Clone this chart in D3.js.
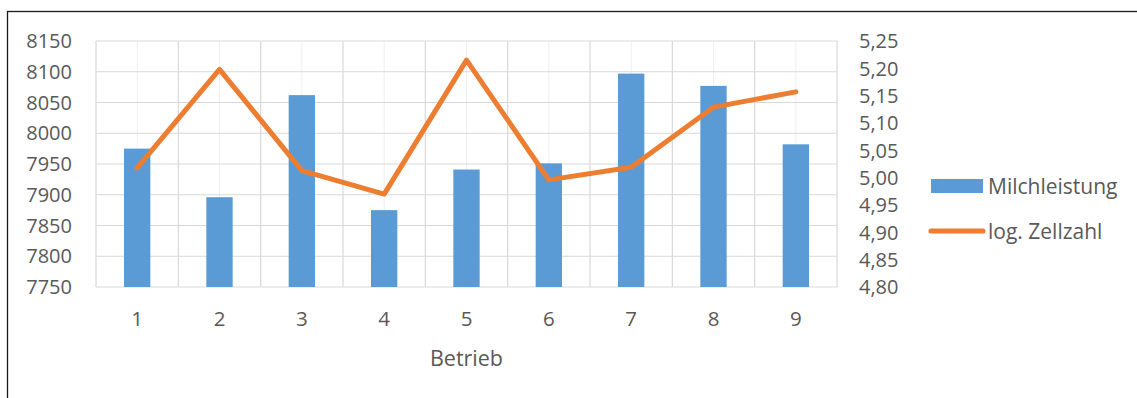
<!DOCTYPE html>
<html>
<head>
<meta charset="utf-8">
<script src="https://cdn.jsdelivr.net/npm/d3@7"></script>
<style>
  body { margin: 0; background: #fff; }
  text { font-family: "Open Sans", "Liberation Sans", sans-serif; fill: #595959; }
</style>
</head>
<body>
<div id="plot"></div>
<script>
// Data
const betriebe = ["1", "2", "3", "4", "5", "6", "7", "8", "9"];
const milchleistung = [7975, 7896, 8062, 7875, 7941, 7951, 8097, 8077, 7982];
const logZellzahl = [5.018, 5.198, 5.013, 4.970, 5.215, 4.996, 5.019, 5.129, 5.157];
const leftTicks = [7750, 7800, 7850, 7900, 7950, 8000, 8050, 8100, 8150];
const rightTicks = [4.80, 4.85, 4.90, 4.95, 5.00, 5.05, 5.10, 5.15, 5.20, 5.25];
const seriesNames = ["Milchleistung", "log. Zellzahl"];

const W = 1137, H = 398;
const plot = {left: 96, right: 837, top: 41, bottom: 287};

const svg = d3.select("#plot")
    .append("svg")
    .attr("width", W)
    .attr("height", H);

// outer chart border (cut off on the right and bottom)
svg.append("rect")
    .attr("x", 7.5).attr("y", 11.5)
    .attr("width", W + 20).attr("height", H + 20)
    .attr("fill", "none")
    .attr("stroke", "#1a1a1a")
    .attr("stroke-width", 1.3);

// Scales
const x = d3.scaleBand()
    .domain(betriebe)
    .range([plot.left, plot.right])
    .padding(0);

const yLeft = d3.scaleLinear()
    .domain([7750, 8150])
    .range([plot.bottom, plot.top]);

const yRight = d3.scaleLinear()
    .domain([4.80, 5.25])
    .range([plot.bottom, plot.top]);

// minor vertical gridlines at category centres
svg.append("g")
    .selectAll("line")
    .data(betriebe)
    .join("line")
    .attr("x1", d => x(d) + x.bandwidth() / 2)
    .attr("x2", d => x(d) + x.bandwidth() / 2)
    .attr("y1", plot.top).attr("y2", plot.bottom)
    .attr("stroke", "#efefef")
    .attr("stroke-width", 1);

// major vertical gridlines at category boundaries
const bounds = betriebe.map(d => x(d)).concat([x(betriebe[betriebe.length - 1]) + x.bandwidth()]);
svg.append("g")
    .selectAll("line")
    .data(bounds)
    .join("line")
    .attr("x1", d => d).attr("x2", d => d)
    .attr("y1", plot.top).attr("y2", plot.bottom)
    .attr("stroke", "#d9d9d9")
    .attr("stroke-width", 1.2);

// horizontal gridlines
svg.append("g")
    .selectAll("line")
    .data(leftTicks)
    .join("line")
    .attr("x1", plot.left).attr("x2", plot.right)
    .attr("y1", d => yLeft(d)).attr("y2", d => yLeft(d))
    .attr("stroke", "#d9d9d9")
    .attr("stroke-width", 1.2);

// Bars
const barW = x.bandwidth() * 0.32;
svg.append("g")
    .selectAll("rect")
    .data(milchleistung)
    .join("rect")
    .attr("x", (d, i) => x(betriebe[i]) + x.bandwidth() / 2 - barW / 2)
    .attr("y", d => yLeft(d))
    .attr("width", barW)
    .attr("height", d => plot.bottom - yLeft(d))
    .attr("fill", "#5b9bd5");

// Line
const line = d3.line()
    .x((d, i) => x(betriebe[i]) + x.bandwidth() / 2)
    .y(d => yRight(d));

svg.append("path")
    .datum(logZellzahl)
    .attr("d", line)
    .attr("fill", "none")
    .attr("stroke", "#ed7d31")
    .attr("stroke-width", 5)
    .attr("stroke-linejoin", "round")
    .attr("stroke-linecap", "round");

// Left axis labels
svg.append("g")
    .selectAll("text")
    .data(leftTicks)
    .join("text")
    .attr("x", 72)
    .attr("y", d => yLeft(d))
    .attr("dy", "0.36em")
    .attr("text-anchor", "end")
    .style("font-size", "20px")
    .text(d => d);

// Right axis labels
const fmtRight = d => d.toFixed(2).replace(".", ",");
svg.append("g")
    .selectAll("text")
    .data(rightTicks)
    .join("text")
    .attr("x", 859)
    .attr("y", d => yRight(d))
    .attr("dy", "0.36em")
    .attr("text-anchor", "start")
    .style("font-size", "20px")
    .text(fmtRight);

// Category labels
svg.append("g")
    .selectAll("text")
    .data(betriebe)
    .join("text")
    .attr("x", d => x(d) + x.bandwidth() / 2)
    .attr("y", 326)
    .attr("text-anchor", "middle")
    .style("font-size", "20.5px")
    .text(d => d);

// Axis title
svg.append("text")
    .attr("x", (plot.left + plot.right) / 2)
    .attr("y", 366)
    .attr("text-anchor", "middle")
    .style("font-size", "21.5px")
    .text("Betrieb");

// Legend
const legend = svg.append("g");
legend.append("rect")
    .attr("x", 931).attr("y", 179)
    .attr("width", 52).attr("height", 14)
    .attr("fill", "#5b9bd5");
legend.append("line")
    .attr("x1", 931).attr("x2", 983)
    .attr("y1", 231).attr("y2", 231)
    .attr("stroke", "#ed7d31")
    .attr("stroke-width", 5)
    .attr("stroke-linecap", "round");
legend.selectAll("text.leg")
    .data(seriesNames)
    .join("text")
    .attr("class", "leg")
    .attr("x", 988)
    .attr("y", (d, i) => i === 0 ? 186 : 231)
    .attr("dy", "0.36em")
    .style("font-size", "21px")
    .text(d => d);
</script>
</body>
</html>
